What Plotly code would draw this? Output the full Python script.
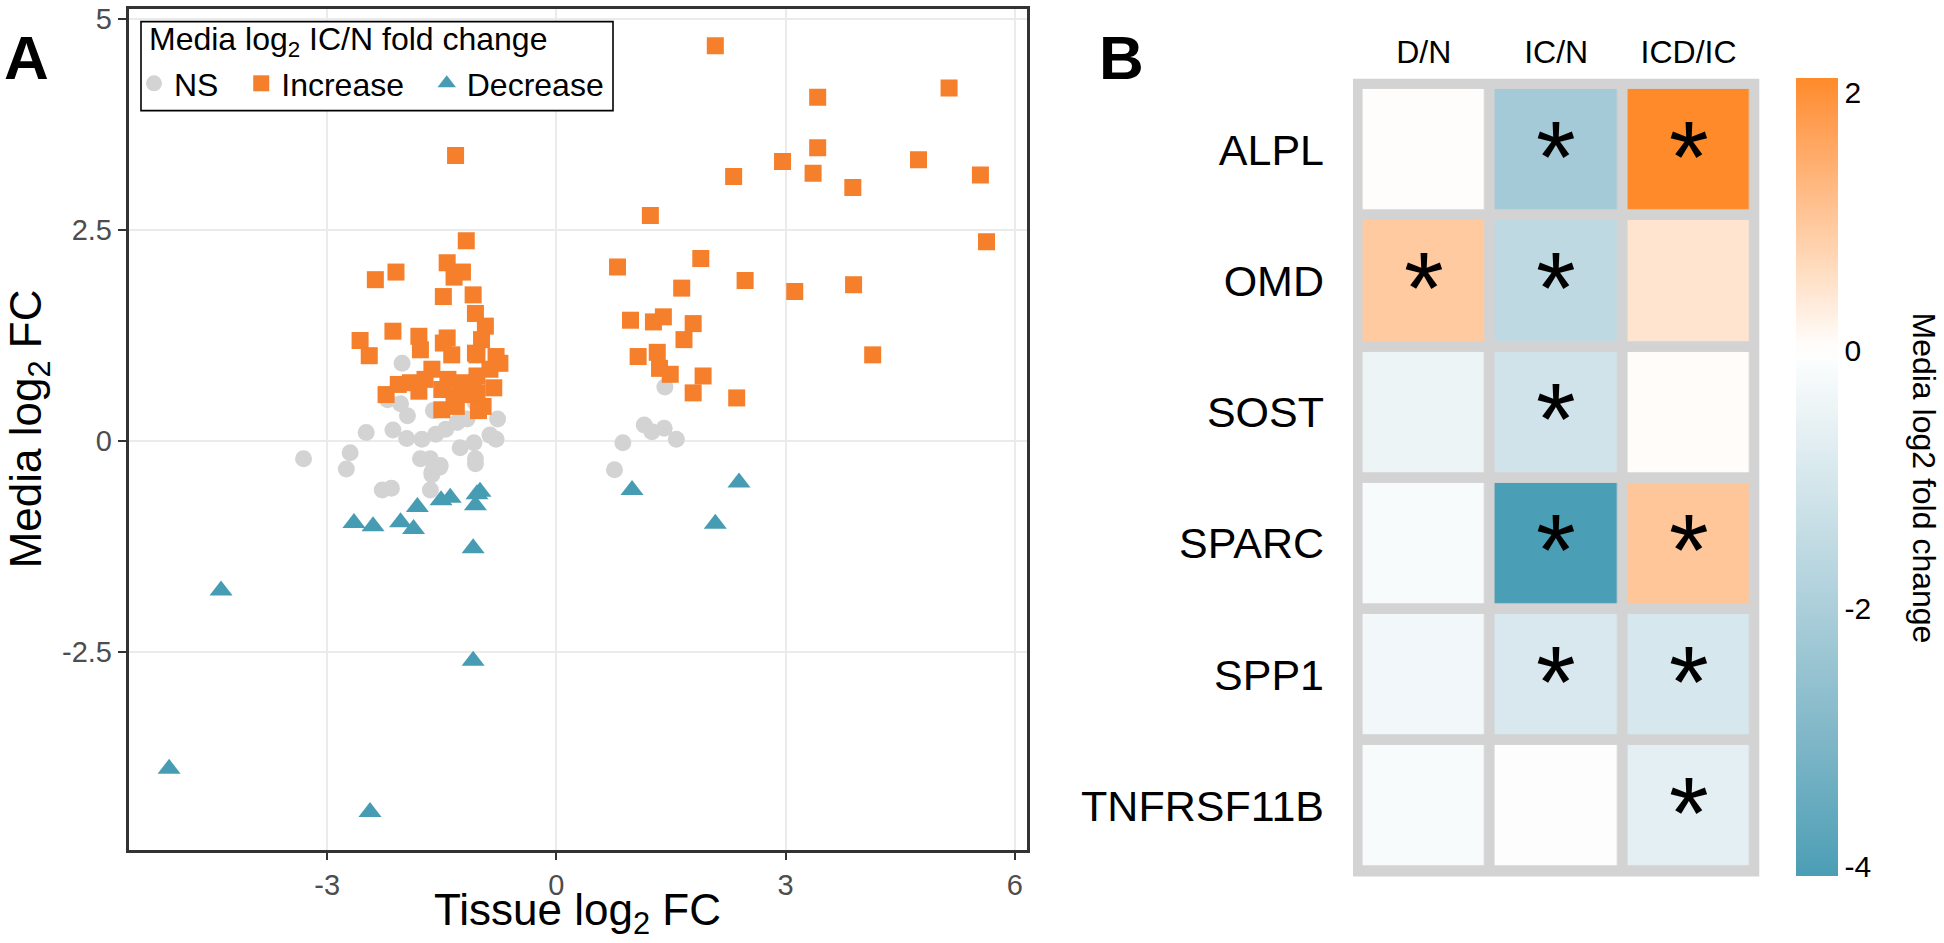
import plotly.graph_objects as go

# ---------------- Panel A data (Tissue log2 FC vs Media log2 FC) ----------------
ns_x = [-3.31, -2.70, -2.75, -2.28, -2.16, -2.02, -2.21, -2.04, -1.95, -1.61, -2.49, -2.14,
        -1.96, -1.76, -1.58, -1.45, -1.30, -1.17, -1.12, -1.06, -0.98, -0.77, -0.79, -0.87,
        -1.26, -1.08, -1.06, -1.06, -1.78, -1.65, -1.52, -1.63, -1.65, -1.63, -1.53,
        1.42, 1.15, 1.25, 1.41, 1.57, 0.87, 0.76]
ns_y = [-0.21, -0.14, -0.33, -0.58, -0.56, 0.92, 0.49, 0.44, 0.30, 0.36, 0.10, 0.13,
        0.03, 0.02, 0.08, 0.14, 0.22, 0.26, 0.69, 0.45, 0.43, 0.26, 0.02, 0.07,
        -0.08, -0.02, -0.21, -0.27, -0.21, -0.21, -0.29, -0.37, -0.58, -0.40, -0.31,
        0.64, 0.19, 0.11, 0.15, 0.02, -0.02, -0.34]

inc_x = [-1.32, -1.18, -2.37, -2.10, -1.43, -1.23, -1.34, -1.48, -1.09, -1.06, -0.93, -0.98,
         -2.14, -2.57, -2.45, -1.80, -1.78, -1.43, -1.48, -1.37, -1.06, -1.04, -0.79, -0.74,
         -0.87, -1.63, -1.04, -2.23, -2.07, -1.91, -1.80, -1.72, -1.50, -1.42, -1.25, -1.09,
         -0.82, -1.50, -1.31, -0.96, -1.34, -1.17, -1.02, -1.04,
         0.80, 1.89, 2.47, 3.12, 1.64, 0.97, 1.27, 1.40, 1.79, 1.67, 1.07, 1.32, 1.35, 1.49,
         1.92, 1.79, 2.36, 1.23, 3.89, 4.14,
         2.08, 5.14, 3.42, 3.42, 2.96, 3.36, 2.32, 4.74, 5.55, 3.88, 5.63]
inc_y = [3.38, 2.37, 1.91, 2.00, 2.11, 2.00, 1.94, 1.71, 1.73, 1.51, 1.36, 1.20,
         1.30, 1.19, 1.01, 1.24, 1.08, 1.22, 1.16, 1.02, 1.04, 1.02, 1.00, 0.92,
         0.85, 0.85, 0.77, 0.55, 0.67, 0.69, 0.59, 0.73, 0.61, 0.73, 0.69, 0.65,
         0.63, 0.37, 0.41, 0.41, 0.53, 0.55, 0.36, 0.57,
         2.06, 2.16, 1.90, 1.77, 1.81, 1.43, 1.41, 1.47, 1.39, 1.20, 1.00, 1.05, 0.86, 0.79,
         0.77, 0.57, 0.51, 2.67, 1.85, 1.02,
         4.68, 4.18, 4.07, 3.47, 3.31, 3.17, 3.13, 3.33, 3.15, 3.00, 2.36]

dec_x = [-4.39, -5.07, -2.44, -1.09, -1.09, -2.65, -2.40, -2.04, -1.87, -1.82, -1.51, -1.39,
         -1.06, -1.00, -1.04, 0.99, 2.39, 2.08]
dec_y = [-1.77, -3.88, -4.39, -2.60, -1.27, -0.97, -1.01, -0.96, -1.04, -0.78, -0.70, -0.67,
         -0.76, -0.60, -0.63, -0.58, -0.49, -0.98]

group_names = ["NS", "Increase", "Decrease"]
legend_title = "Media log<sub>2</sub> IC/N fold change"
x_ticks = [-3, 0, 3, 6]
y_ticks = [-2.5, 0, 2.5, 5]
y_ticktext = ["-2.5", "0", "2.5", "5"]

# ---------------- Panel B data (heatmap) ----------------
genes = ["ALPL", "OMD", "SOST", "SPARC", "SPP1", "TNFRSF11B"]
comparisons = ["D/N", "IC/N", "ICD/IC"]
fc_DN = [0.02, 0.95, -0.47, -0.18, -0.31, -0.18]
fc_ICN = [-2.2, -1.57, -1.15, -4.08, -0.94, -0.02]
fc_ICDIC = [2.11, 0.48, 0.04, 1.02, -0.99, -0.67]
sig_DN = [False, True, False, False, False, False]
sig_ICN = [True, True, True, True, True, False]
sig_ICDIC = [True, False, False, True, True, True]
cbar_ticks = [2, 0, -2, -4]

FONT = "Liberation Sans, Arial, Helvetica, sans-serif"
W, H = 1944, 943

# ---------------- colour scale (Lab interpolation like ggplot) ----------------
def hex2rgb(h):
    h = h.lstrip("#")
    return [int(h[i:i + 2], 16) for i in (0, 2, 4)]

def rgb2lab(rgb):
    def lin(c):
        c = c / 255.0
        return c / 12.92 if c <= 0.04045 else ((c + 0.055) / 1.055) ** 2.4
    r, g, b = [lin(c) for c in rgb]
    X = (0.4124564 * r + 0.3575761 * g + 0.1804375 * b) / 0.95047
    Y = (0.2126729 * r + 0.7151522 * g + 0.0721750 * b) / 1.0
    Z = (0.0193339 * r + 0.1191920 * g + 0.9503041 * b) / 1.08883
    def f(t):
        return t ** (1 / 3) if t > 0.008856 else 7.787 * t + 16 / 116
    fx, fy, fz = f(X), f(Y), f(Z)
    return [116 * fy - 16, 500 * (fx - fy), 200 * (fy - fz)]

def lab2rgb(lab):
    L, a, b = lab
    fy = (L + 16) / 116
    fx = fy + a / 500
    fz = fy - b / 200
    def finv(t):
        return t ** 3 if t ** 3 > 0.008856 else (t - 16 / 116) / 7.787
    X, Y, Z = finv(fx) * 0.95047, finv(fy), finv(fz) * 1.08883
    r = 3.2404542 * X - 1.5371385 * Y - 0.4985314 * Z
    g = -0.9692660 * X + 1.8760108 * Y + 0.0415560 * Z
    bb = 0.0556434 * X - 0.2040259 * Y + 1.0572252 * Z
    def gam(c):
        c = 12.92 * c if c <= 0.0031308 else 1.055 * c ** (1 / 2.4) - 0.055
        return int(round(min(max(c, 0), 1) * 255))
    return "rgb(%d,%d,%d)" % (gam(r), gam(g), gam(bb))

LOW, MID, HIGH = "#4A9EB5", "#FFFFFF", "#FF8A2A"
zmin = min(fc_DN + fc_ICN + fc_ICDIC)
zmax = max(fc_DN + fc_ICN + fc_ICDIC)
lab_lo, lab_mid, lab_hi = rgb2lab(hex2rgb(LOW)), rgb2lab(hex2rgb(MID)), rgb2lab(hex2rgb(HIGH))
colorscale = []
n = 60
for i in range(n + 1):
    v = zmin + (zmax - zmin) * i / n
    if v < 0:
        t = v / zmin
        lab = [lab_mid[k] + (lab_lo[k] - lab_mid[k]) * t for k in range(3)]
    else:
        t = v / zmax
        lab = [lab_mid[k] + (lab_hi[k] - lab_mid[k]) * t for k in range(3)]
    colorscale.append([i / n, lab2rgb(lab)])

# ---------------- figure ----------------
fig = go.Figure()
NB = "&nbsp;&nbsp;"
fig.add_trace(go.Scatter(x=ns_x, y=ns_y, mode="markers", name=group_names[0] + NB,
                         marker=dict(symbol="circle", size=17, color="#D3D3D3", line=dict(width=0)),
                         xaxis="x", yaxis="y"))
fig.add_trace(go.Scatter(x=inc_x, y=inc_y, mode="markers", name=group_names[1] + NB,
                         marker=dict(symbol="square", size=17, color="#F57F2A", line=dict(width=0)),
                         xaxis="x", yaxis="y"))
fig.add_trace(go.Scatter(x=dec_x, y=dec_y, mode="markers", name=group_names[2],
                         marker=dict(symbol="triangle-up", size=20, color="#469DB3", line=dict(width=0)),
                         xaxis="x", yaxis="y"))

z = [[fc_DN[i], fc_ICN[i], fc_ICDIC[i]] for i in range(len(genes))]
fig.add_trace(go.Heatmap(
    z=z, x=comparisons, y=genes, xaxis="x2", yaxis="y2",
    colorscale=colorscale, zmin=zmin, zmax=zmax, xgap=10.7, ygap=10.7,
    showlegend=False, hoverinfo="skip",
    colorbar=dict(x=1796 / W, xanchor="left", y=67 / H, yanchor="bottom",
                  len=802.7 / H, lenmode="fraction", thickness=42, thicknessmode="pixels",
                  outlinewidth=0, xpad=0, ypad=0, ticks="",
                  tickvals=cbar_ticks, ticktext=[str(t) for t in cbar_ticks],
                  tickfont=dict(size=30, color="#000000", family=FONT)),
))

# panel B grey background
fig.add_shape(type="rect", xref="x2 domain", yref="y2 domain", x0=0, x1=1, y0=0, y1=1,
              fillcolor="#D3D3D3", line=dict(width=0), layer="below")
# legend box of panel A
fig.add_shape(type="rect", xref="paper", yref="paper", x0=141 / W, x1=613 / W,
              y0=1 - 105.3 / H, y1=1 - 15.7 / H,
              fillcolor="white", line=dict(width=1.6, color="#000000"), layer="above")

annotations = []
# asterisks for significant cells
sig_cols = [sig_DN, sig_ICN, sig_ICDIC]
for j, comp in enumerate(comparisons):
    for i, g in enumerate(genes):
        if sig_cols[j][i]:
            annotations.append(dict(x=comp, y=g, xref="x2", yref="y2", text="*", showarrow=False,
                                    font=dict(size=102, color="#000000", family=FONT),
                                    xanchor="center", yanchor="middle", yshift=-7))

# panel labels and axis titles
annotations += [
    dict(x=26 / W, y=1 - 52 / H, xref="paper", yref="paper", text="<b>A</b>", showarrow=False,
         font=dict(size=62, color="#000000", family=FONT), xanchor="center", yanchor="middle"),
    dict(x=1121 / W, y=1 - 52 / H, xref="paper", yref="paper", text="<b>B</b>", showarrow=False,
         font=dict(size=62, color="#000000", family=FONT), xanchor="center", yanchor="middle"),
    dict(x=0.5, y=1 - 913 / H, xref="x domain", yref="paper", text="Tissue log<sub>2</sub> FC",
         showarrow=False, font=dict(size=44, color="#000000", family=FONT),
         xanchor="center", yanchor="middle"),
    dict(x=29 / W, y=0.5, xref="paper", yref="y domain", text="Media log<sub>2</sub> FC",
         showarrow=False, textangle=-90, font=dict(size=44, color="#000000", family=FONT),
         xanchor="center", yanchor="middle"),
    dict(x=1924 / W, y=1 - 474.5 / H, xref="paper", yref="paper", text="Media log2 fold change",
         showarrow=False, textangle=90, font=dict(size=32, color="#000000", family=FONT),
         xanchor="center", yanchor="middle"),
    dict(x=147 / W, y=1 - 36 / H, xref="paper", yref="paper", text=legend_title,
         showarrow=False, font=dict(size=32, color="#000000", family=FONT),
         xanchor="left", yanchor="middle"),
]

fig.update_layout(
    width=W, height=H, margin=dict(l=0, r=0, t=0, b=0),
    paper_bgcolor="white", plot_bgcolor="white",
    font=dict(family=FONT, color="#000000"),
    annotations=annotations,
    legend=dict(
        x=134 / W, y=1 - 78 / H, xanchor="left", yanchor="middle", orientation="h",
        bgcolor="rgba(0,0,0,0)", borderwidth=0,
        font=dict(size=32, color="#000000", family=FONT),
        itemwidth=30, tracegroupgap=0,
    ),
    xaxis=dict(domain=[128.6 / W, 1027 / W], range=[-5.6, 6.16], anchor="y",
               tickvals=x_ticks, ticktext=[str(t) for t in x_ticks],
               showgrid=True, gridcolor="#EBEBEB", gridwidth=2.4, zeroline=False,
               showline=True, linecolor="#333333", linewidth=2.6, mirror=True,
               ticks="outside", ticklen=8, tickwidth=2.4, tickcolor="#333333",
               ticklabeloverflow="allow",
               tickfont=dict(size=29, color="#4D4D4D", family=FONT)),
    yaxis=dict(domain=[94 / H, 940 / H], range=[-4.836, 5.114], anchor="x",
               tickvals=y_ticks, ticktext=y_ticktext,
               showgrid=True, gridcolor="#EBEBEB", gridwidth=2.4, zeroline=False,
               showline=True, linecolor="#333333", linewidth=2.6, mirror=True,
               ticks="outside", ticklen=8, tickwidth=2.4, tickcolor="#333333",
               ticklabeloverflow="allow",
               tickfont=dict(size=29, color="#4D4D4D", family=FONT)),
    xaxis2=dict(domain=[1353 / W, 1759.3 / W], range=[-0.5344, 2.5344], anchor="y2",
                side="top", showgrid=False, zeroline=False, showline=False, ticks="",
                ticklabelstandoff=8,
                tickfont=dict(size=32, color="#000000", family=FONT)),
    yaxis2=dict(domain=[67 / H, 869.7 / H], range=[5.5385, -0.5385], anchor="x2",
                showgrid=False, zeroline=False, showline=False, ticks="",
                ticklabelstandoff=28,
                tickfont=dict(size=43, color="#000000", family=FONT)),
)

fig.write_html("out.html", config={"displayModeBar": False},
               post_script="document.body.style.margin='0';document.body.style.overflow='hidden';")
